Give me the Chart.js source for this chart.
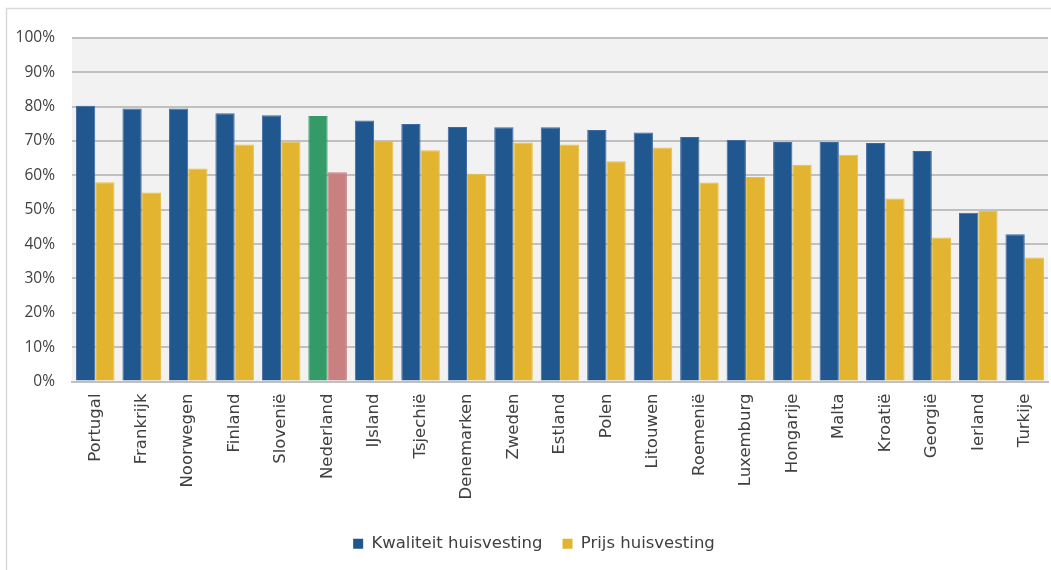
<!DOCTYPE html>
<html>
<head>
<meta charset="utf-8">
<script src="https://cdn.jsdelivr.net/npm/chart.js@4.4.1/dist/chart.umd.min.js"></script>
<style>
html,body{margin:0;padding:0;background:#fff;}
#wrap{position:relative;width:1051px;height:570px;}
</style>
</head>
<body>
<div id="wrap"><canvas id="c"></canvas></div>
<script>
const categories = ["Portugal","Frankrijk","Noorwegen","Finland","Slovenië","Nederland","IJsland","Tsjechië","Denemarken","Zweden","Estland","Polen","Litouwen","Roemenië","Luxemburg","Hongarije","Malta","Kroatië","Georgië","Ierland","Turkije"];
const kwaliteit = [80.3,79.5,79.5,78.1,77.5,77.3,76.0,75.0,74.1,74.0,74.0,73.2,72.5,71.2,70.3,69.7,69.7,69.4,67.1,49.1,42.9];
const prijs = [58.0,55.0,62.0,69.0,69.9,60.9,70.1,67.3,60.5,69.6,69.0,64.1,68.1,57.9,59.5,63.1,66.0,53.3,41.9,49.6,36.1];
const seriesNames = ["Kwaliteit huisvesting","Prijs huisvesting"];
const yTicks = [0,10,20,30,40,50,60,70,80,90,100];

const highlight = "Nederland";
const BLUE = "#21578f", YELLOW = "#e2b430", GREEN = "#339a68", PINK = "#c98081";
const blueColors = categories.map(c => c === highlight ? GREEN : BLUE);
const yellowColors = categories.map(c => c === highlight ? PINK : YELLOW);
const blueBorders = categories.map(c => c === highlight ? GREEN : "#3d6aa0");
const yellowBorders = categories.map(c => c === highlight ? PINK : "#e8c04a");

const framePlugin = {
  id: "frame",
  afterLayout(chart) {
    if (chart.legend) { chart.legend.left += 10; chart.legend.right += 10; }
  },
  beforeDraw(chart) {
    const ctx = chart.ctx, a = chart.chartArea;
    ctx.save();
    ctx.fillStyle = "#ffffff";
    ctx.fillRect(0, 0, chart.width, chart.height);
    ctx.strokeStyle = "#d9d9d9";
    ctx.lineWidth = 1.5;
    ctx.beginPath();
    ctx.moveTo(6.5, chart.height);
    ctx.lineTo(6.5, 8.5);
    ctx.lineTo(chart.width, 8.5);
    ctx.stroke();
    ctx.fillStyle = "#f2f2f2";
    ctx.fillRect(a.left, a.top, a.right - a.left, a.bottom - a.top);
    ctx.restore();
  }
};

new Chart(document.getElementById("c"), {
  type: "bar",
  data: {
    labels: categories,
    datasets: [
      { label: seriesNames[0], data: kwaliteit, backgroundColor: blueColors, borderColor: blueBorders, borderWidth: {top:1,left:1,right:1,bottom:0}, categoryPercentage: 0.83, barPercentage: 1.0 },
      { label: seriesNames[1], data: prijs, backgroundColor: yellowColors, borderColor: yellowBorders, borderWidth: {top:1,left:1,right:1,bottom:0}, categoryPercentage: 0.83, barPercentage: 1.0 }
    ]
  },
  options: {
    responsive: true,
    maintainAspectRatio: false,
    animation: false,
    layout: { padding: { left: 0, right: 3, top: 38, bottom: 8 } },
    plugins: {
      tooltip: { enabled: false },
      legend: {
        position: "bottom",
        labels: {
          boxWidth: 10, boxHeight: 10, padding: 20,
          color: "#404040",
          font: { family: "'DejaVu Sans'", size: 16.5 },
          generateLabels(chart) {
            return chart.data.datasets.map((ds, i) => ({
              text: ds.label,
              fillStyle: i === 0 ? BLUE : YELLOW,
              strokeStyle: i === 0 ? BLUE : YELLOW,
              lineWidth: 0,
              fontColor: "#404040",
              datasetIndex: i
            }));
          }
        }
      }
    },
    scales: {
      x: {
        grid: { display: false, drawTicks: false },
        border: { display: true, color: "#c0c0c0", width: 2 },
        ticks: {
          minRotation: 90, maxRotation: 90, padding: 12, autoSkip: false,
          color: "#404040",
          font: { family: "'DejaVu Sans'", size: 16.5 }
        },
        afterFit(s) { s.height = 134; s.paddingLeft = 0; s.paddingRight = 0; }
      },
      y: {
        min: 0, max: 100,
        afterBuildTicks(s) { s.ticks = yTicks.map(v => ({ value: v })); },
        grid: { color: "#c0c0c0", lineWidth: 2, drawTicks: false },
        border: { display: false },
        ticks: {
          padding: 17,
          color: "#404040",
          font: { family: "'Open Sans'", size: 15.5 },
          callback: v => v + "%"
        },
        afterFit(s) { s.width = 72; s.paddingTop = 0; s.paddingBottom = 0; }
      }
    }
  },
  plugins: [framePlugin]
});
</script>
</body>
</html>
